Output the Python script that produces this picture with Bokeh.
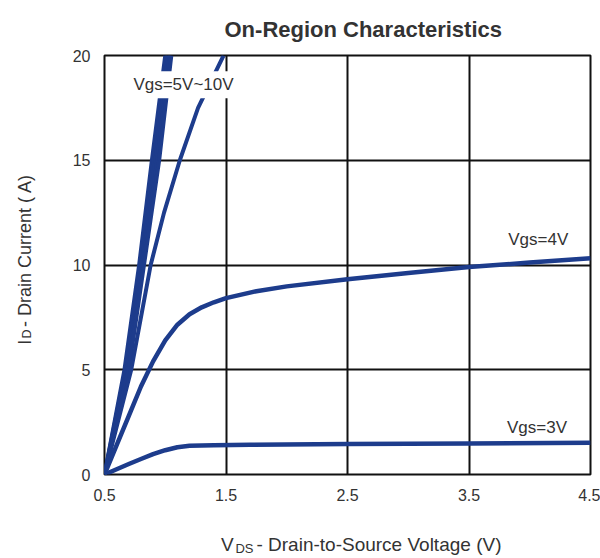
import math
from bokeh.plotting import figure
from bokeh.models import Range1d, FixedTicker, Label, LinearAxis, Title
from bokeh.embed import file_html
from bokeh.resources import INLINE

# ---------------- data ----------------
x_ticks = [0.5, 1.5, 2.5, 3.5, 4.5]
y_ticks = [0, 5, 10, 15, 20]

# Vgs = 6..10 V (merged band)
band_id = [0, 5, 10, 15, 20]
vds_vgs10 = [0.5, 0.664, 0.785, 0.890, 1.000]
vds_vgs9 = [0.5, 0.673, 0.795, 0.905, 1.012]
vds_vgs8 = [0.5, 0.682, 0.805, 0.920, 1.025]
vds_vgs7 = [0.5, 0.691, 0.815, 0.935, 1.038]
vds_vgs6 = [0.5, 0.700, 0.825, 0.950, 1.050]

# Vgs = 5 V
vds_vgs5 = [0.5, 0.61, 0.72, 0.80, 0.88, 0.99, 1.12, 1.27, 1.48]
id_vgs5 = [0, 2.5, 5, 7.5, 10, 12.5, 15, 17.5, 20]

# Vgs = 4 V
vds_vgs4 = [0.5, 0.6, 0.7, 0.8, 0.9, 1.0, 1.1, 1.2, 1.3, 1.4, 1.5, 1.75, 2.0, 2.5, 3.0, 3.5, 4.0, 4.5]
id_vgs4 = [0, 1.4, 2.8, 4.2, 5.4, 6.4, 7.15, 7.65, 7.98, 8.22, 8.42, 8.75, 8.98, 9.32, 9.62, 9.9, 10.12, 10.32]

# Vgs = 3 V
vds_vgs3 = [0.5, 0.6, 0.7, 0.8, 0.9, 1.0, 1.1, 1.2, 1.4, 1.7, 2.5, 3.5, 4.5]
id_vgs3 = [0, 0.25, 0.5, 0.74, 0.97, 1.16, 1.30, 1.37, 1.40, 1.42, 1.45, 1.48, 1.52]

title_text = "On-Region Characteristics"
curve_labels = ["Vgs=5V~10V", "Vgs=4V", "Vgs=3V"]
xlabel_parts = ["V", "DS", "- Drain-to-Source Voltage (V)"]
ylabel_parts = ["I", "D", "- Drain Current ( A)"]

# ---------------- styling ----------------
FONT = "Liberation Sans"
LINE_COLOR = "#1d3c8c"
TEXT_COLOR = "#333333"

p = figure(width=600, height=558, output_backend="svg", toolbar_location=None,
           x_range=Range1d(0.5, 4.5), y_range=Range1d(0, 20),
           min_border_left=104, min_border_right=10, min_border_top=55, min_border_bottom=83)

p.background_fill_color = "white"
p.border_fill_color = "white"
p.outline_line_color = "#111111"
p.outline_line_width = 2


def style_axis(ax, size, standoff):
    ax.major_tick_line_color = None
    ax.minor_tick_line_color = None
    ax.major_tick_out = 0
    ax.major_tick_in = 0
    ax.minor_tick_out = 0
    ax.minor_tick_in = 0
    ax.axis_line_color = None
    ax.major_label_text_font = FONT
    ax.major_label_text_font_size = size
    ax.major_label_text_color = TEXT_COLOR
    ax.major_label_standoff = standoff


style_axis(p.xaxis[0], "16px", 14)
style_axis(p.yaxis[0], "16px", 14)
p.xaxis[0].ticker = FixedTicker(ticks=x_ticks)
p.yaxis[0].ticker = FixedTicker(ticks=y_ticks)

p.xgrid[0].ticker = FixedTicker(ticks=x_ticks)
p.ygrid[0].ticker = FixedTicker(ticks=y_ticks)
for g in (p.xgrid[0], p.ygrid[0]):
    g.grid_line_color = "#111111"
    g.grid_line_width = 2
    g.grid_line_alpha = 1.0

# ---------------- curves ----------------
for xs in (vds_vgs10, vds_vgs9, vds_vgs8, vds_vgs7, vds_vgs6):
    p.line(xs, band_id, line_color=LINE_COLOR, line_width=4, line_join="round")
p.line(vds_vgs5, id_vgs5, line_color=LINE_COLOR, line_width=4, line_join="round")
p.line(vds_vgs4, id_vgs4, line_color=LINE_COLOR, line_width=4.5, line_join="round")
p.line(vds_vgs3, id_vgs3, line_color=LINE_COLOR, line_width=4.5, line_join="round")

# ---------------- curve labels ----------------
p.add_layout(Label(x=1.15, y=18.6, text=curve_labels[0], text_align="center", text_baseline="middle",
                   text_font=FONT, text_font_size="17px", text_color=TEXT_COLOR,
                   background_fill_color="white", padding=4))
p.add_layout(Label(x=4.07, y=11.2, text=curve_labels[1], text_align="center", text_baseline="middle",
                   text_font=FONT, text_font_size="17px", text_color=TEXT_COLOR))
p.add_layout(Label(x=4.06, y=2.24, text=curve_labels[2], text_align="center", text_baseline="middle",
                   text_font=FONT, text_font_size="17px", text_color=TEXT_COLOR))

# ---------------- title ----------------
p.add_layout(Title(text=title_text, align="left", offset=120, standoff=27,
                   text_font=FONT, text_font_size="22px", text_font_style="bold",
                   text_color=TEXT_COLOR), "above")

# ---------------- x axis label (V_DS ...) as label-only axes ----------------
XL_V, XL_DS, XL_REST = 1.512, 1.652, 2.759
ax_v = LinearAxis(ticker=FixedTicker(ticks=[XL_V, XL_REST]),
                  major_label_overrides={XL_V: xlabel_parts[0], XL_REST: xlabel_parts[2]})
style_axis(ax_v, "19px", 30)
p.add_layout(ax_v, "below")
ax_ds = LinearAxis(ticker=FixedTicker(ticks=[XL_DS]),
                   major_label_overrides={XL_DS: xlabel_parts[1]})
style_axis(ax_ds, "13px", -17)
p.add_layout(ax_ds, "below")

# ---------------- y axis label (I_D ...) as label-only axes ----------------
YL_I, YL_D, YL_REST = 6.31, 6.71, 10.69
ay_i = LinearAxis(ticker=FixedTicker(ticks=[YL_I, YL_REST]),
                  major_label_overrides={YL_I: ylabel_parts[0], YL_REST: ylabel_parts[2]},
                  major_label_orientation="vertical")
style_axis(ay_i, "18px", 34)
p.add_layout(ay_i, "left")
ay_d = LinearAxis(ticker=FixedTicker(ticks=[YL_D]),
                  major_label_overrides={YL_D: ylabel_parts[1]},
                  major_label_orientation="vertical")
style_axis(ay_d, "12.5px", -22)
p.add_layout(ay_d, "left")

open("out.html", "w").write(file_html(p, INLINE))
